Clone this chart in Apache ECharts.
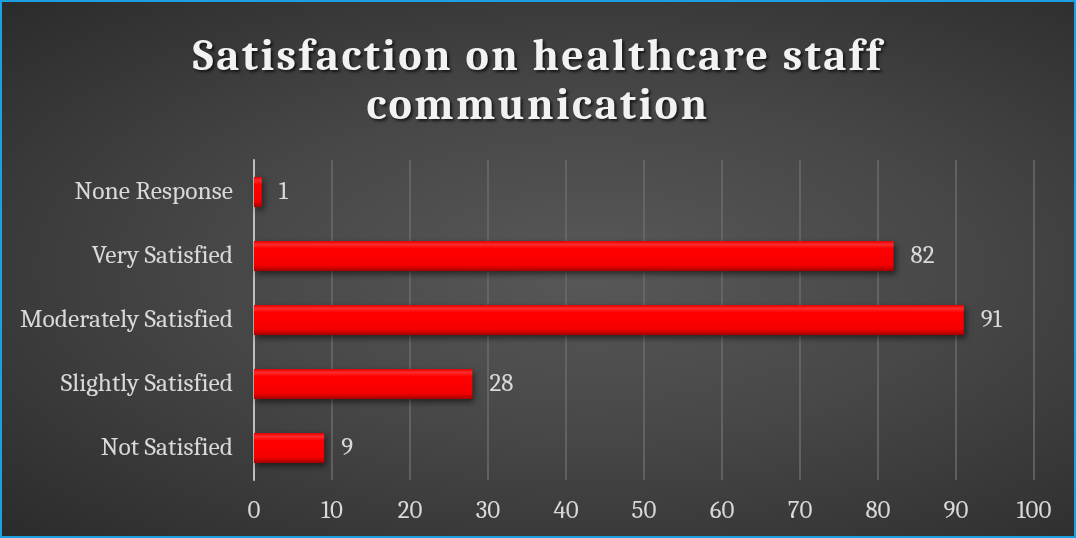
<!DOCTYPE html>
<html><head><meta charset="utf-8">
<script src="https://cdn.jsdelivr.net/npm/echarts@6/dist/echarts.min.js"></script>
<style>
html,body{margin:0;padding:0;background:#fff;}
#wrap{position:absolute;left:0;top:0;width:1076px;height:538px;box-sizing:border-box;border:2px solid #1ba1e2;
background:radial-gradient(ellipse at 55% 50%, #585858 0%, #474747 45%, #2b2b2b 100%);}
#c{width:100%;height:100%;}
</style></head>
<body><div id="wrap"><div id="c"></div></div>
<script>
const categories = ['Not Satisfied','Slightly Satisfied','Moderately Satisfied','Very Satisfied','None Response'];
const values = [9, 28, 91, 82, 1];
const titleLines = ['Satisfaction on healthcare staff', 'communication'];
const xTicks = [0,10,20,30,40,50,60,70,80,90,100];

// letter spacing for the title lines only (canvas letterSpacing)
(function(){
  const P = CanvasRenderingContext2D.prototype;
  if (!('letterSpacing' in P)) return;
  const of = P.fillText, om = P.measureText;
  P.fillText = function(t, x, y, m){
    const prev = this.letterSpacing;
    this.letterSpacing = titleLines.indexOf(t) >= 0 ? '2.5px' : '0px';
    const r = m === undefined ? of.call(this, t, x, y) : of.call(this, t, x, y, m);
    this.letterSpacing = prev; return r;
  };
  P.measureText = function(t){
    const prev = this.letterSpacing;
    this.letterSpacing = titleLines.indexOf(t) >= 0 ? '2.5px' : '0px';
    const r = om.call(this, t);
    this.letterSpacing = prev; return r;
  };
})();

const chart = echarts.init(document.getElementById('c'), null, {renderer:'canvas'});
const font = 'Cambria, Caladea, "DejaVu Serif", "Liberation Serif", serif';
chart.setOption({
  backgroundColor: 'transparent',
  title: {
    text: titleLines.join('\n'), left: 'center', top: 26,
    textStyle: {fontFamily: font, fontWeight: 'bold', fontSize: 44, color: '#f2f2f2', lineHeight: 49,
      textShadowColor: 'rgba(0,0,0,0.7)', textShadowBlur: 3, textShadowOffsetX: 2, textShadowOffsetY: 2}
  },
  grid: {left: 252, right: 40, top: 158, bottom: 56, containLabel: false},
  xAxis: {
    type: 'value', min: xTicks[0], max: xTicks[xTicks.length-1], interval: 10,
    axisLine: {show: false}, axisTick: {show: false},
    axisLabel: {color: '#d9d9d9', fontFamily: font, fontSize: 25, margin: 18},
    splitLine: {show: true, lineStyle: {color: '#6b6b6b', width: 1.5}}
  },
  yAxis: {
    type: 'category', data: categories,
    axisLine: {show: true, lineStyle: {color: '#bfbfbf', width: 2}},
    axisTick: {show: false},
    axisLabel: {color: '#d9d9d9', fontFamily: font, fontSize: 25.5, margin: 21}
  },
  series: [{
    type: 'bar', data: values, barWidth: '47%',
    itemStyle: {
      color: new echarts.graphic.LinearGradient(0,0,0,1,[
        {offset:0,color:'#e00000'},{offset:0.12,color:'#ff2a2a'},{offset:0.25,color:'#ff0000'},
        {offset:0.8,color:'#f40000'},{offset:1,color:'#a80000'}]),
      shadowColor: 'rgba(0,0,0,0.55)', shadowBlur: 6, shadowOffsetX: 2, shadowOffsetY: 3
    },
    label: {show: true, position: 'right', distance: 17, color: '#d9d9d9', fontFamily: font, fontSize: 25}
  }]
});
</script></body></html>
